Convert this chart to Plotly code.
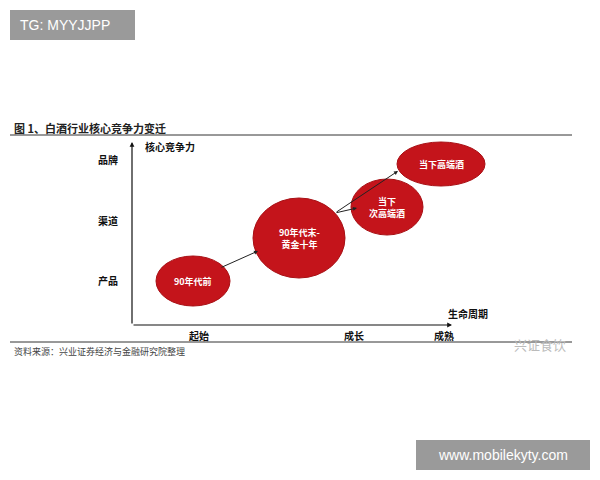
import plotly.graph_objects as go

# diagram stages (pixel-space layout of the reference)
stages = ["90年代前", "90年代末-<br>黄金十年", "当下<br>次高端酒", "当下高端酒"]
stage_x = [193, 299, 387, 441]
stage_y = [281, 238, 207, 164]
stage_rx = [37, 46, 36, 44]
stage_ry = [25, 40, 28, 22]

y_levels = ["品牌", "渠道", "产品"]
y_level_pos = [159, 220, 280]
x_levels = ["起始", "成长", "成熟"]
x_level_pos = [199, 354, 444]

arrows = [((220, 268), (258, 251)), ((335, 213), (398, 171)), ((335, 213), (357, 208))]

FONT = "Noto Sans CJK SC"
RED = "#c4141b"

fig = go.Figure()
fig.add_trace(go.Scatter(x=[0, 600], y=[0, 480], mode="markers", marker_opacity=0, hoverinfo="skip"))

shapes = []
for x, y, rx, ry in zip(stage_x, stage_y, stage_rx, stage_ry):
    shapes.append(dict(type="circle", xref="x", yref="y", x0=x - rx, x1=x + rx, y0=y - ry, y1=y + ry,
                       fillcolor=RED, line=dict(color="#a80f14", width=1)))
# rules
shapes.append(dict(type="line", x0=10, x1=572, y0=135, y1=135, line=dict(color="#333", width=1)))
shapes.append(dict(type="line", x0=10, x1=572, y0=342, y1=342, line=dict(color="#333", width=1)))
# watermark boxes
shapes.append(dict(type="rect", x0=10, x1=135, y0=10, y1=40, fillcolor="#9a9a9a", line_width=0))
shapes.append(dict(type="rect", x0=416, x1=590, y0=440, y1=470, fillcolor="#9a9a9a", line_width=0))

ann = []
for t, x, y in zip(stages, stage_x, stage_y):
    ann.append(dict(x=x, y=y, text="<b>" + t + "</b>", showarrow=False,
                    font=dict(family=FONT, size=9, color="white")))
for t, y in zip(y_levels, y_level_pos):
    ann.append(dict(x=108, y=y, text="<b>" + t + "</b>", showarrow=False, font=dict(family=FONT, size=10, color="#111")))
for t, x in zip(x_levels, x_level_pos):
    ann.append(dict(x=x, y=335, text="<b>" + t + "</b>", showarrow=False, font=dict(family=FONT, size=10, color="#111")))
# axes arrows
ann.append(dict(x=132, y=142, ax=132, ay=325, axref="x", ayref="y", text="", showarrow=True,
                arrowhead=2, arrowsize=0.8, arrowwidth=1.2, arrowcolor="#111"))
ann.append(dict(x=452, y=325, ax=132, ay=325, axref="x", ayref="y", text="", showarrow=True,
                arrowhead=2, arrowsize=0.8, arrowwidth=1.2, arrowcolor="#111"))
for (x0, y0), (x1, y1) in arrows:
    ann.append(dict(x=x1, y=y1, ax=x0, ay=y0, axref="x", ayref="y", text="", showarrow=True,
                    arrowhead=2, arrowsize=0.8, arrowwidth=1, arrowcolor="#222"))
ann += [
    dict(x=170, y=146, text="<b>核心竞争力</b>", showarrow=False, font=dict(family=FONT, size=10, color="#111")),
    dict(x=468, y=313, text="<b>生命周期</b>", showarrow=False, font=dict(family=FONT, size=10, color="#111")),
    dict(x=12, y=128, text="<b>图 1、白酒行业核心竞争力变迁</b>", xanchor="left", showarrow=False,
         font=dict(family=FONT, size=11, color="#222")),
    dict(x=12, y=351, text="资料来源：兴业证券经济与金融研究院整理", xanchor="left", showarrow=False,
         font=dict(family=FONT, size=9, color="#444")),
    dict(x=540, y=344, text="兴证食饮", showarrow=False, font=dict(family=FONT, size=13, color="#bbb")),
    dict(x=18, y=25, text="TG: MYYJJPP", xanchor="left", showarrow=False,
         font=dict(family="Liberation Sans", size=14, color="white")),
    dict(x=503, y=455, text="www.mobilekyty.com", showarrow=False,
         font=dict(family="Liberation Sans", size=14, color="white")),
]

# page body adds an 8px offset; shift the pixel ranges to compensate
fig.update_layout(
    width=600, height=480, margin=dict(l=0, r=0, t=0, b=0),
    plot_bgcolor="white", paper_bgcolor="white", showlegend=False,
    xaxis=dict(range=[8, 608], visible=False, fixedrange=True),
    yaxis=dict(range=[488, 8], visible=False, fixedrange=True),
    shapes=shapes, annotations=ann,
)
fig.write_html("out.html")
